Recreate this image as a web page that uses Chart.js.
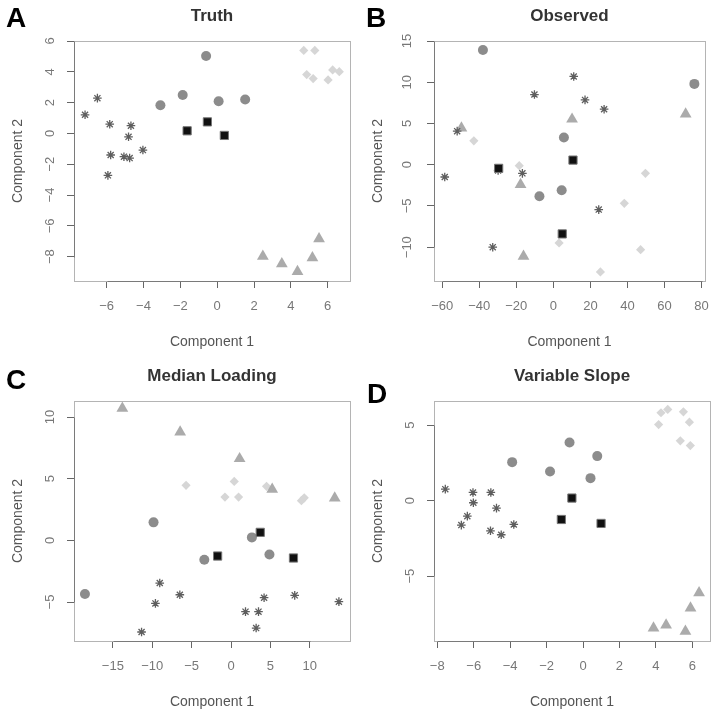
<!DOCTYPE html>
<html>
<head>
<meta charset="utf-8">
<script src="https://cdn.jsdelivr.net/npm/chart.js@4.4.0/dist/chart.umd.min.js"></script>
<style>
  body { margin: 0; background: #fff; }
  #wrap { position: relative; width: 720px; height: 719px; overflow: hidden; }
  canvas { position: absolute; }
  .tag { position: absolute; font: bold 28px "Liberation Sans", Arial, sans-serif; line-height: 28px; color: #000; }
</style>
</head>
<body>
<div id="wrap">
  <canvas id="truth" width="360" height="360" style="left:0;top:0"></canvas>
  <canvas id="observed" width="360" height="360" style="left:360px;top:0"></canvas>
  <canvas id="median" width="360" height="360" style="left:0;top:360px"></canvas>
  <canvas id="slope" width="360" height="360" style="left:360px;top:360px"></canvas>
  <div class="tag" style="left:6px;top:4px">A</div>
  <div class="tag" style="left:366px;top:4px">B</div>
  <div class="tag" style="left:6px;top:366px">C</div>
  <div class="tag" style="left:367px;top:380px">D</div>
</div>
<script>
// ---- data ----
const truthXTicks = [-6, -4, -2, 0, 2, 4, 6];
const truthYTicks = [-8, -6, -4, -2, 0, 2, 4, 6];
const truthXRange = [-7.77, 7.21];
const truthYRange = [-9.58, 6.0];
const truthCircles = [[-0.6, 5.03], [-1.87, 2.5], [-3.08, 1.83], [0.08, 2.09], [1.52, 2.2]];
const truthSquares = [[-1.63, 0.17], [-0.53, 0.75], [0.39, -0.13]];
const truthDiamonds = [[4.7, 5.39], [5.3, 5.39], [4.86, 3.82], [5.21, 3.56], [6.02, 3.47], [6.27, 4.12], [6.63, 4.01]];
const truthTriangles = [[2.48, -7.98], [3.51, -8.46], [4.36, -8.97], [5.17, -8.07], [5.53, -6.84]];
const truthStars = [[-7.17, 1.21], [-6.5, 2.29], [-5.83, 0.6], [-4.68, 0.5], [-4.81, -0.22], [-5.78, -1.4], [-5.06, -1.51], [-4.75, -1.6], [-4.03, -1.08], [-5.93, -2.72]];

const obsXTicks = [-60, -40, -20, 0, 20, 40, 60, 80];
const obsYTicks = [-10, -5, 0, 5, 10, 15];
const obsXRange = [-64.4, 81.8];
const obsYRange = [-14.1, 15.0];
const obsCircles = [[-38, 13.9], [76.1, 9.8], [5.7, 3.31], [4.5, -3.1], [-7.5, -3.83]];
const obsSquares = [[-29.5, -0.44], [10.6, 0.56], [4.8, -8.39]];
const obsDiamonds = [[-42.9, 2.9], [-18.4, -0.12], [49.7, -1.05], [38.3, -4.68], [3.1, -9.48], [47.1, -10.3], [25.4, -13]];
const obsTriangles = [[-49.6, 4.44], [10.1, 5.52], [71.4, 6.13], [-17.7, -2.42], [-16.1, -11.1]];
const obsStars = [[-58.6, -1.49], [-10.2, 8.51], [11, 10.7], [17.1, 7.86], [27.4, 6.73], [-16.7, -1.05], [24.5, -5.44], [-32.7, -10], [-51.9, 4.07], [-29.8, -0.7]];

const medXTicks = [-15, -10, -5, 0, 5, 10];
const medYTicks = [-5, 0, 5, 10];
const medXRange = [-19.94, 15.11];
const medYRange = [-8.16, 11.3];
const medCircles = [[-9.84, 1.46], [-3.39, -1.57], [2.65, 0.24], [4.88, -1.14], [-18.55, -4.35]];
const medSquares = [[-1.7, -1.27], [3.71, 0.65], [7.93, -1.43]];
const medDiamonds = [[-5.71, 4.46], [0.41, 4.78], [-0.77, 3.51], [0.96, 3.51], [4.51, 4.38], [8.94, 3.22], [9.3, 3.45]];
const medTriangles = [[-13.8, 10.7], [-6.46, 8.78], [1.09, 6.62], [5.23, 4.14], [13.17, 3.43]];
const medStars = [[-9.05, -3.46], [-9.6, -5.11], [-6.5, -4.41], [-11.36, -7.43], [1.84, -5.78], [3.49, -5.78], [3.19, -7.11], [4.2, -4.65], [8.09, -4.46], [13.7, -4.97]];

const slopeXTicks = [-8, -6, -4, -2, 0, 2, 4, 6];
const slopeYTicks = [-5, 0, 5];
const slopeXRange = [-8.18, 6.97];
const slopeYRange = [-9.3, 6.6];
const slopeCircles = [[-0.74, 3.85], [-3.89, 2.55], [0.78, 2.95], [-1.81, 1.93], [0.41, 1.49]];
const slopeSquares = [[-0.61, 0.17], [-1.19, -1.25], [0.99, -1.51]];
const slopeDiamonds = [[4.15, 5.04], [4.28, 5.82], [4.65, 6.04], [5.51, 5.88], [5.84, 5.2], [5.34, 3.96], [5.89, 3.65]];
const slopeTriangles = [[6.37, -6.11], [5.9, -7.12], [4.56, -8.24], [3.87, -8.44], [5.62, -8.66]];
const slopeStars = [[-7.56, 0.76], [-6.04, 0.54], [-5.06, 0.54], [-6.02, -0.14], [-4.75, -0.5], [-6.35, -1.03], [-6.68, -1.62], [-3.8, -1.58], [-5.08, -2.0], [-4.49, -2.26]];

const FONT = '"Liberation Sans", Arial, sans-serif';

// box round the plot region plus the axis lines (first to last tick), like base R
const framePlugin = {
  id: 'frame',
  beforeDatasetsDraw(chart) {
    const { ctx, chartArea: a, scales: { x, y } } = chart;
    const L = Math.round(a.left) + 0.5, R = Math.round(a.right) + 0.5;
    const T = Math.round(a.top) + 0.5, B = Math.round(a.bottom) + 0.5;
    ctx.save();
    ctx.lineWidth = 1;
    ctx.strokeStyle = '#b4b4b4';
    ctx.strokeRect(L, T, R - L, B - T);
    ctx.strokeStyle = '#7a7a7a';
    const xs = x.ticks.map(t => Math.round(x.getPixelForValue(t.value)) + 0.5);
    const ys = y.ticks.map(t => Math.round(y.getPixelForValue(t.value)) + 0.5);
    ctx.beginPath();
    ctx.moveTo(xs[0], B); ctx.lineTo(xs[xs.length - 1], B);
    ctx.moveTo(L, ys[0]); ctx.lineTo(L, ys[ys.length - 1]);
    ctx.stroke();
    ctx.restore();
  }
};

function minus(v) {
  return String(v).replace('-', '\u2212');
}

function toPoints(arr) {
  return arr.map(p => ({ x: p[0], y: p[1] }));
}

function makePanel(id, title, groups, xTicks, yTicks, xRange, yRange) {
  const datasets = [
    { data: toPoints(groups.squares), pointStyle: 'rect', pointRadius: 5.8, backgroundColor: '#111', borderColor: '#777', borderWidth: 1 },
    { data: toPoints(groups.circles), pointStyle: 'circle', pointRadius: 5, backgroundColor: '#8c8c8c', borderColor: '#8c8c8c', borderWidth: 0 },
    { data: toPoints(groups.stars), pointStyle: 'star', pointRadius: 4.3, backgroundColor: '#5e5e5e', borderColor: '#5e5e5e', borderWidth: 1.3 },
    { data: toPoints(groups.triangles), pointStyle: 'triangle', pointRadius: 6.8, backgroundColor: '#ababab', borderColor: '#ababab', borderWidth: 0 },
    { data: toPoints(groups.diamonds), pointStyle: 'rectRot', pointRadius: 4.6, backgroundColor: '#d6d6d6', borderColor: '#d6d6d6', borderWidth: 0 }
  ];
  datasets.forEach(d => { d.showLine = false; d.clip = false; d.pointHoverRadius = d.pointRadius; });

  return new Chart(document.getElementById(id), {
    type: 'scatter',
    data: { datasets },
    options: {
      responsive: false,
      animation: false,
      events: [],
      layout: { padding: { left: 0, right: 10, top: 0, bottom: 0 } },
      plugins: {
        legend: { display: false },
        tooltip: { enabled: false },
        title: {
          display: true,
          text: title,
          fullSize: false,
          color: '#333',
          font: { family: FONT, size: 17, weight: 'bold' },
          padding: { top: 6, bottom: 14.6 }
        }
      },
      scales: {
        x: {
          type: 'linear',
          min: xRange[0],
          max: xRange[1],
          afterBuildTicks: s => { s.ticks = xTicks.map(v => ({ value: v })); },
          afterFit: s => { s.height = 79; },
          grid: { display: true, drawOnChartArea: false, drawTicks: true, tickLength: 7, color: '#666' },
          border: { display: false },
          ticks: { color: '#777', font: { family: FONT, size: 13 }, padding: 11, maxRotation: 0, autoSkip: false, callback: minus },
          title: { display: true, text: 'Component 1', color: '#555', font: { family: FONT, size: 14 }, padding: { top: 0, bottom: 9 } }
        },
        y: {
          type: 'linear',
          min: yRange[0],
          max: yRange[1],
          afterBuildTicks: s => { s.ticks = yTicks.map(v => ({ value: v })); },
          afterFit: s => { s.width = 74; },
          grid: { display: true, drawOnChartArea: false, drawTicks: true, tickLength: 7, color: '#666' },
          border: { display: false },
          ticks: { color: '#777', font: { family: FONT, size: 13 }, padding: 9, minRotation: 90, maxRotation: 90, crossAlign: 'center', autoSkip: false, callback: minus },
          title: { display: true, text: 'Component 2', color: '#555', font: { family: FONT, size: 14 }, padding: { top: 10, bottom: 0 } }
        }
      }
    },
    plugins: [framePlugin]
  });
}

makePanel('truth', 'Truth',
  { circles: truthCircles, squares: truthSquares, diamonds: truthDiamonds, triangles: truthTriangles, stars: truthStars },
  truthXTicks, truthYTicks, truthXRange, truthYRange);
makePanel('observed', 'Observed',
  { circles: obsCircles, squares: obsSquares, diamonds: obsDiamonds, triangles: obsTriangles, stars: obsStars },
  obsXTicks, obsYTicks, obsXRange, obsYRange);
makePanel('median', 'Median Loading',
  { circles: medCircles, squares: medSquares, diamonds: medDiamonds, triangles: medTriangles, stars: medStars },
  medXTicks, medYTicks, medXRange, medYRange);
makePanel('slope', 'Variable Slope',
  { circles: slopeCircles, squares: slopeSquares, diamonds: slopeDiamonds, triangles: slopeTriangles, stars: slopeStars },
  slopeXTicks, slopeYTicks, slopeXRange, slopeYRange);
</script>
</body>
</html>
